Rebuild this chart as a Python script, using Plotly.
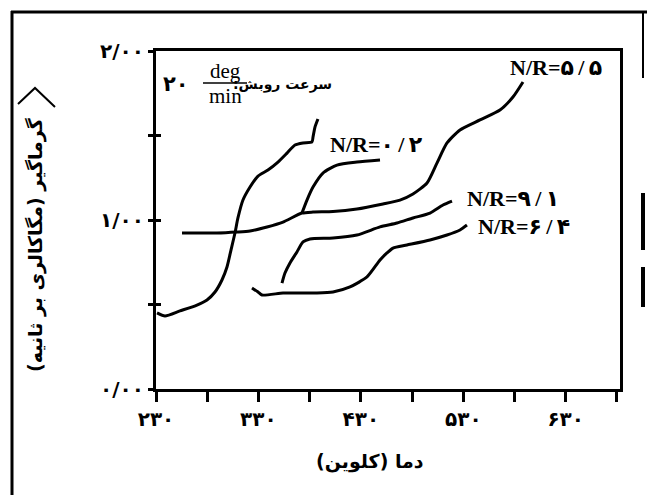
import plotly.graph_objects as go

# ---- data (temperature in K, heat flow in Mcal/s) ----
t_a = [231.0, 238.8, 253.4, 270.0, 279.8, 287.6, 294.4, 299.3, 303.2, 307.1, 310.0,
       314.9, 321.8, 329.6, 339.3, 349.1, 357.9, 365.7, 373.5, 382.3, 383.3, 385.2, 388.1]
v_a = [0.450, 0.432, 0.462, 0.497, 0.527, 0.574, 0.645, 0.722, 0.822, 0.923, 1.012,
       1.118, 1.195, 1.260, 1.296, 1.343, 1.396, 1.444, 1.456, 1.462, 1.491, 1.550, 1.598]

t_55 = [255.4, 273.0, 289.5, 309.1, 321.8, 338.4, 354.0, 372.5, 383.3, 402.8, 426.2,
        451.6, 468.2, 480.9, 494.6, 504.3, 514.1, 526.8, 546.3, 565.8, 578.5, 588.3]
v_55 = [0.923, 0.923, 0.923, 0.929, 0.935, 0.959, 0.988, 1.041, 1.047, 1.050, 1.065,
        1.095, 1.118, 1.154, 1.219, 1.337, 1.456, 1.533, 1.592, 1.651, 1.728, 1.817]

t_02 = [372.5, 377.4, 383.3, 393.0, 406.7, 426.2, 448.7]
v_02 = [1.041, 1.118, 1.195, 1.278, 1.325, 1.343, 1.355]

t_91 = [353.0, 355.9, 360.8, 367.6, 373.5, 380.3, 402.8, 426.2, 448.7, 465.3, 480.9,
        497.5, 510.2, 519.0]
v_91 = [0.627, 0.686, 0.746, 0.811, 0.870, 0.888, 0.893, 0.911, 0.959, 0.982, 1.012,
        1.041, 1.089, 1.112]

t_64 = [323.7, 329.6, 333.5, 354.0, 370.6, 387.2, 402.8, 419.4, 436.0, 448.7, 455.5,
        461.4, 475.0, 497.5, 514.1, 526.8, 533.6]
v_64 = [0.598, 0.574, 0.556, 0.568, 0.568, 0.568, 0.574, 0.604, 0.663, 0.763, 0.805,
        0.834, 0.852, 0.882, 0.911, 0.941, 0.970]

x_tickvals = [230, 280, 330, 380, 430, 480, 530, 580, 630, 680]
x_ticktext = ["۲۳۰", "", "۳۳۰", "", "۴۳۰", "", "۵۳۰", "", "۶۳۰", ""]
y_tickvals = [0, 0.5, 1.0, 1.5, 2.0]
y_ticktext = ["۰/۰۰", "", "۱/۰۰", "", "۲/۰۰"]

curve_labels = ["N/R=۵\u2009/\u2009۵", "N/R=۰\u2009/\u2009۲", "N/R=۹\u2009/\u2009۱", "N/R=۶\u2009/\u2009۴"]
label_t = [620.5, 444.8, 578.5, 589.2]
label_v = [1.905, 1.444, 1.130, 0.964]

scan_rate_text = "سرعت روبش:\u200f"
scan_rate_value = "۲۰"
x_title = "دما (کلوین)"
y_title = "گرماگیر (مگاکالری بر ثانیه)\u200f"

# ---- layout geometry ----
W, H = 647, 495
L, R, T, B = 156, 27, 51, 106
PW, PH = W - L - R, H - T - B


def px(x):
    return (x - L) / PW


def py(y):
    return (H - B - y) / PH


FA = "DejaVu Sans"
FS = "Liberation Serif, DejaVu Sans"
LINE = dict(color="black", width=3, shape="spline", smoothing=0.6)

fig = go.Figure()
for name, xs, ys in [("A", t_a, v_a), ("N/R=5/5", t_55, v_55), ("N/R=0/2", t_02, v_02),
                     ("N/R=9/1", t_91, v_91), ("N/R=6/4", t_64, v_64)]:
    fig.add_trace(go.Scatter(x=xs, y=ys, mode="lines", line=LINE, name=name,
                             showlegend=False, hoverinfo="skip"))
fig.add_trace(go.Scatter(x=[None], y=[None], yaxis="y2", showlegend=False))

annotations = []
for txt, xv, yv in zip(curve_labels, label_t, label_v):
    annotations.append(dict(x=xv, y=yv, xref="x", yref="y", text="<b>" + txt + "</b>",
                            showarrow=False, font=dict(family=FS, size=22, color="black")))

annotations += [
    dict(x=px(334), y=py(84), xref="paper", yref="paper", xanchor="right", yanchor="middle",
         text="<b>" + scan_rate_text + "</b>", showarrow=False,
         font=dict(family=FA, size=14, color="black")),
    dict(x=px(225), y=py(71), xref="paper", yref="paper", xanchor="center", yanchor="middle",
         text="deg", showarrow=False, font=dict(family="Liberation Serif", size=21, color="black")),
    dict(x=px(225), y=py(96), xref="paper", yref="paper", xanchor="center", yanchor="middle",
         text="min", showarrow=False, font=dict(family="Liberation Serif", size=21, color="black")),
    dict(x=px(176), y=py(84), xref="paper", yref="paper", xanchor="center", yanchor="middle",
         text="<b>" + scan_rate_value + "</b>", showarrow=False,
         font=dict(family=FA, size=21, color="black")),
    dict(x=px(370), y=py(462), xref="paper", yref="paper", xanchor="center", yanchor="middle",
         text="<b>" + x_title + "</b>", showarrow=False, font=dict(family=FA, size=19, color="black")),
    dict(x=px(36), y=py(244), xref="paper", yref="paper", xanchor="center", yanchor="middle",
         text="<b>" + y_title + "</b>", textangle=-90, showarrow=False,
         font=dict(family=FA, size=19, color="black")),
]

shapes = [
    # fraction bar
    dict(type="line", xref="paper", yref="paper", x0=px(203), x1=px(247), y0=py(83), y1=py(83),
         line=dict(color="black", width=1.5)),
    # chevron at the top of the y title
    dict(type="path", xref="paper", yref="paper",
         path="M {} {} L {} {} L {} {}".format(px(18), py(104), px(35), py(88), px(55), py(107)),
         line=dict(color="black", width=2)),
    # outer frame
    dict(type="line", xref="paper", yref="paper", x0=px(12), x1=px(12), y0=py(11), y1=py(495),
         line=dict(color="black", width=3)),
    dict(type="line", xref="paper", yref="paper", x0=px(11), x1=px(647), y0=py(12), y1=py(12),
         line=dict(color="black", width=3)),
    dict(type="line", xref="paper", yref="paper", x0=px(643), x1=px(643), y0=py(12), y1=py(78),
         line=dict(color="black", width=2)),
    dict(type="line", xref="paper", yref="paper", x0=px(643), x1=px(643), y0=py(193), y1=py(250),
         line=dict(color="black", width=4)),
    dict(type="line", xref="paper", yref="paper", x0=px(643), x1=px(643), y0=py(267), y1=py(307),
         line=dict(color="black", width=4)),
]

fig.update_layout(
    width=W, height=H,
    margin=dict(l=L, r=R, t=T, b=B, autoexpand=False),
    paper_bgcolor="white", plot_bgcolor="white",
    showlegend=False,
    xaxis=dict(range=[230, 683], tickvals=x_tickvals, ticktext=["<b>" + s + "</b>" for s in x_ticktext],
               ticks="outside", ticklen=10, tickwidth=3, tickcolor="black",
               showline=True, linecolor="black", linewidth=3, mirror=True,
               showgrid=False, zeroline=False, automargin=False,
               tickfont=dict(family=FA, size=20, color="black")),
    yaxis=dict(range=[0, 2.0], tickvals=y_tickvals, ticktext=["<b>" + s + "</b>" for s in y_ticktext],
               ticks="outside", ticklen=5, tickwidth=3, tickcolor="black",
               showline=True, linecolor="black", linewidth=3, mirror=True,
               showgrid=False, zeroline=False, automargin=False,
               tickfont=dict(family=FA, size=20, color="black")),
    yaxis2=dict(range=[0, 2.0], overlaying="y", side="left", tickvals=[0.5, 1.0, 1.5],
                ticks="inside", ticklen=5, tickwidth=3, tickcolor="black", automargin=False,
                showticklabels=False, showline=False, showgrid=False, zeroline=False),
    annotations=annotations,
    shapes=shapes,
)

fig.write_html("out.html", config={"displayModeBar": False},
               post_script="document.body.style.margin='0';")
